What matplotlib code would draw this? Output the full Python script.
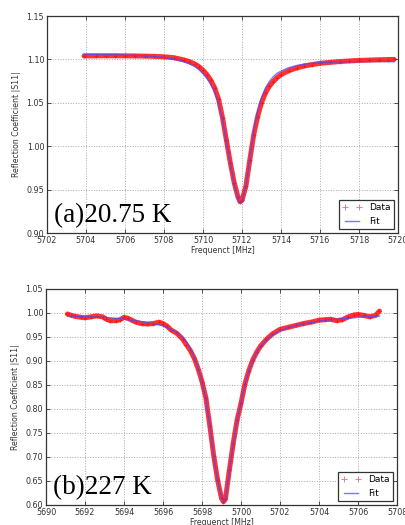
import matplotlib
matplotlib.use("Agg")
import matplotlib.pyplot as plt
from matplotlib.ticker import MultipleLocator

# --- panel (a): 20.75 K ---
freq_a = [5703.9, 5704.5, 5705.0, 5705.5, 5706.0, 5706.5, 5707.0, 5707.5, 5708.0,
          5708.5, 5709.0, 5709.3, 5709.6, 5709.8, 5710.0, 5710.2, 5710.4, 5710.6,
          5710.8, 5711.0, 5711.2, 5711.4, 5711.6, 5711.8, 5711.9, 5712.0, 5712.2,
          5712.4, 5712.6, 5712.8, 5713.0, 5713.2, 5713.4, 5713.6, 5713.8, 5714.0,
          5714.4, 5714.8, 5715.2, 5715.6, 5716.0, 5716.5, 5717.0, 5717.5, 5718.0,
          5718.5, 5719.0, 5719.5, 5719.8]
data_a = [1.1040, 1.1041, 1.1042, 1.1042, 1.1041, 1.1040, 1.1038, 1.1035, 1.1030,
          1.1020, 1.0995, 1.0975, 1.0945, 1.0915, 1.0875, 1.0825, 1.0760, 1.0670,
          1.0540, 1.0330, 1.0070, 0.9810, 0.9580, 0.9410, 0.9360, 0.9375, 0.9540,
          0.9840, 1.0130, 1.0340, 1.0500, 1.0610, 1.0690, 1.0745, 1.0790, 1.0825,
          1.0870, 1.0900, 1.0925, 1.0940, 1.0955, 1.0965, 1.0975, 1.0982, 1.0988,
          1.0992, 1.0996, 1.0998, 1.1000]
fit_a = [1.1060, 1.1058, 1.1056, 1.1053, 1.1050, 1.1046, 1.1040, 1.1033, 1.1023,
         1.1005, 1.0975, 1.0950, 1.0915, 1.0880, 1.0835, 1.0780, 1.0710, 1.0620,
         1.0490, 1.0310, 1.0060, 0.9800, 0.9560, 0.9390, 0.9350, 0.9365, 0.9540,
         0.9850, 1.0170, 1.0400, 1.0560, 1.0670, 1.0745, 1.0800, 1.0840, 1.0865,
         1.0905, 1.0930, 1.0945, 1.0955, 1.0963, 1.0968, 1.0972, 1.0974, 1.0975,
         1.0975, 1.0975, 1.0974, 1.0973]

# --- panel (b): 227 K ---
freq_b = [5691.1, 5691.3, 5691.5, 5691.8, 5692.0, 5692.3, 5692.6, 5692.9, 5693.1,
          5693.3, 5693.6, 5693.8, 5694.0, 5694.2, 5694.4, 5694.6, 5694.9, 5695.2,
          5695.5, 5695.8, 5696.0, 5696.2, 5696.4, 5696.7, 5697.0, 5697.2, 5697.4,
          5697.6, 5697.8, 5698.0, 5698.2, 5698.4, 5698.6, 5698.8, 5699.0, 5699.1,
          5699.2, 5699.4, 5699.6, 5699.8, 5700.0, 5700.2, 5700.4, 5700.6, 5700.8,
          5701.0, 5701.3, 5701.6, 5702.0, 5702.4, 5702.8, 5703.2, 5703.6, 5704.0,
          5704.3, 5704.6, 5704.9, 5705.2, 5705.5, 5705.8, 5706.0, 5706.3, 5706.6,
          5706.9, 5707.1]
data_b = [0.998, 0.995, 0.993, 0.991, 0.990, 0.992, 0.994, 0.992, 0.987,
          0.984, 0.984, 0.986, 0.991, 0.989, 0.985, 0.981, 0.978, 0.977,
          0.978, 0.981, 0.978, 0.973, 0.965, 0.958, 0.946, 0.934, 0.922,
          0.906, 0.884, 0.857, 0.823, 0.765, 0.703, 0.652, 0.614, 0.607,
          0.612, 0.672, 0.728, 0.777, 0.812, 0.852, 0.880, 0.902, 0.918,
          0.931, 0.945, 0.956, 0.966, 0.970, 0.974, 0.978, 0.981, 0.985,
          0.986, 0.987, 0.984, 0.986, 0.992, 0.996, 0.997, 0.995, 0.992,
          0.995, 1.004]
fit_b = [0.9940, 0.9938, 0.9935, 0.9930, 0.9925, 0.9920, 0.9915, 0.9910, 0.9905,
         0.9900, 0.9890, 0.9880, 0.9870, 0.9860, 0.9850, 0.9840, 0.9820, 0.9800,
         0.9780, 0.9750, 0.9730, 0.9700, 0.9660, 0.9590, 0.9490, 0.9390, 0.9260,
         0.9090, 0.8860, 0.8570, 0.8220, 0.7660, 0.7040, 0.6520, 0.6140, 0.6070,
         0.6110, 0.6690, 0.7270, 0.7750, 0.8120, 0.8500, 0.8790, 0.9010, 0.9170,
         0.9300, 0.9440, 0.9540, 0.9630, 0.9690, 0.9740, 0.9770, 0.9800, 0.9830,
         0.9850, 0.9860, 0.9870, 0.9880, 0.9890, 0.9900, 0.9910, 0.9920, 0.9925,
         0.9930, 0.9935]

panels = [
    dict(f=freq_a, d=data_a, fit=fit_a, xlim=(5702, 5720), ylim=(0.90, 1.15),
         tag="(a)20.75 K", rect=[47/406, 1-233/525, 351/406, 217/525]),
    dict(f=freq_b, d=data_b, fit=fit_b, xlim=(5690, 5708), ylim=(0.60, 1.05),
         tag="(b)227 K", rect=[46/406, 1-505/525, 351/406, 216/525]),
]

fig = plt.figure(figsize=(4.06, 5.25), dpi=100)
txt = '#333333'

for p in panels:
    ax = fig.add_axes(p["rect"])
    # data: dense band of red '+' points
    ax.plot(p["f"], p["d"], '-', color='red', lw=3.6, alpha=0.8, zorder=2,
            solid_capstyle='round')
    ax.plot(p["f"], p["d"], '+', color='red', ms=3, mew=0.6, alpha=0.6,
            label='Data', zorder=2)
    ax.plot(p["f"], p["fit"], '-', color='#4a4aff', lw=1.0, alpha=0.75,
            label='Fit', zorder=3)

    ax.set_xlim(*p["xlim"])
    ax.set_ylim(*p["ylim"])
    ax.xaxis.set_major_locator(MultipleLocator(2))
    ax.yaxis.set_major_locator(MultipleLocator(0.05))
    ax.yaxis.set_major_formatter(plt.FormatStrFormatter('%.2f'))
    ax.tick_params(direction='in', top=True, right=True, length=3, width=0.6,
                   labelsize=5.8, colors=txt, pad=2)
    for s in ax.spines.values():
        s.set_color('#333333')
        s.set_linewidth(0.9)
    ax.grid(True, linestyle=':', color='#aaaaaa', linewidth=0.7)
    ax.set_axisbelow(True)

    ax.set_xlabel("Frequenct [MHz]", fontsize=5.6, color=txt, labelpad=1)
    ax.set_ylabel("Reflection Coefficient |S11|", fontsize=5.6, color=txt, labelpad=4)

    ax.text(0.02, 0.05, p["tag"], transform=ax.transAxes, family='Liberation Serif',
            fontsize=19.5, va='baseline', ha='left', color='black')

    leg = ax.legend(loc='lower right', fontsize=6.5, numpoints=2, fancybox=False,
                    borderaxespad=0.4, handlelength=2.2, framealpha=1,
                    markerscale=1.6)
    leg.get_frame().set_edgecolor('#333333')
    leg.get_frame().set_linewidth(0.9)

fig.savefig("out.png", dpi=100)
